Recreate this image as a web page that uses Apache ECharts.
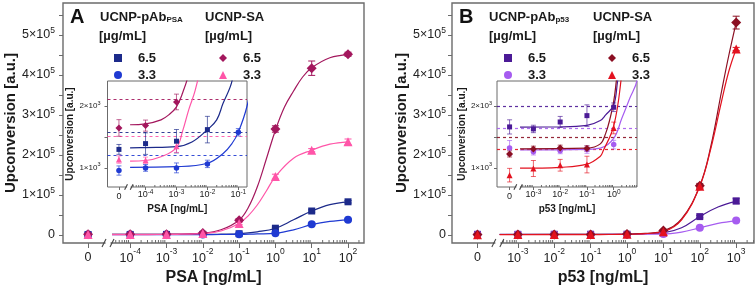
<!DOCTYPE html>
<html><head><meta charset="utf-8">
<script src="https://cdn.jsdelivr.net/npm/echarts@6/dist/echarts.min.js"></script>
<style>html,body{margin:0;padding:0;background:#fff}#c{width:756px;height:293px}</style>
</head><body><div id="c"></div>
<script>
// ================= DATA =================
var concA = [0, 1e-4, 1e-3, 1e-2, 1e-1, 1, 10, 100];
var concB = [0, 1e-3, 1e-2, 1e-1, 1, 10, 100, 1000];
var tickExpA = [-4, -3, -2, -1, 0, 1, 2];
var tickExpAin = [-4, -3, -2, -1];
var tickExpB = [-3, -2, -1, 0, 1, 2, 3];
var tickExpBin = [-3, -2, -1, 0];
var yLabelsMain = [0, 100000, 200000, 300000, 400000, 500000];
var yTicksMain = [0, 50000, 100000, 150000, 200000, 250000, 300000, 350000, 400000, 450000, 500000, 550000];
var yLabelsInset = [1000, 2000];
var yTicksInset = [1000, 1500, 2000];

// Panel A (PSA)
var pAbA65 = [1300, 1394, 1433, 1621, 3200, 17000, 60000, 83000];
var pAbA65Err = [80, 175, 190, 215, 300, 2500, 3000, 3000];
var pAbA33 = [957, 1000, 1000, 1065, 1578, 4300, 27000, 38000];
var pAbA33Err = [75, 55, 80, 60, 60, 1500, 2500, 2500];
var saA65 = [1648, 1686, 2070, 5000, 37000, 265000, 417000, 452000];
var saA65Err = [135, 90, 127, 1500, 4000, 8000, 18000, 5000];
var saA33 = [1135, 1125, 1351, 4000, 29000, 146000, 212000, 233000];
var saA33Err = [60, 50, 100, 1000, 3000, 6000, 4000, 7000];
var lodA = [1578, 1206, 2118, 1514];
var fitPAbA65 = [[-4.5,1325],[-4,1330],[-3,1345],[-2.5,1420],[-2,1620],[-1.7,1780],[-1.5,2040],[-1.2,2420],[-1,3200],[-0.5,8000],[0,17000],[0.5,38000],[1,60000],[1.5,76000],[2,83000]];
var fitPAbA33 = [[-4.5,1010],[-3,1020],[-2,1075],[-1.5,1230],[-1.2,1400],[-1,1580],[-0.72,2000],[-0.5,2600],[0,4500],[0.5,13000],[1,26000],[1.5,34000],[2,38000]];
var fitSaA65 = [[-4.5,1700],[-4,1715],[-3.5,1780],[-3.25,1860],[-3,1990],[-2.8,2220],[-2.6,2550],[-2,4500],[-1.5,13000],[-1,37000],[-0.75,68000],[-0.5,120000],[-0.25,190000],[0,262000],[0.25,320000],[0.5,360000],[0.75,395000],[1,418000],[1.5,443000],[2,451000]];
var fitSaA33 = [[-4.5,1110],[-4,1120],[-3.5,1180],[-3,1330],[-2.8,1600],[-2.6,1950],[-2.4,2250],[-2.2,2700],[-2,3500],[-1.5,10000],[-1,29000],[-0.75,48000],[-0.5,75000],[-0.25,110000],[0,146000],[0.5,192000],[1,212000],[1.5,227000],[2,233000]];

// Panel B (p53)
var pAbB65 = [1665, 1632, 1745, 1848, 1984, 4500, 46000, 85000];
var pAbB65Err = [115, 60, 90, 175, 70, 1000, 3000, 7000];
var pAbB33 = [1324, 1260, 1280, 1297, 1378, 2500, 18000, 36000];
var pAbB33Err = [120, 50, 50, 60, 70, 500, 2000, 3000];
var saB65 = [1227, 1308, 1324, 1313, 2600, 11000, 123000, 531000];
var saB65Err = [50, 45, 45, 45, 100, 3000, 6000, 16000];
var saB33 = [882, 990, 1043, 1054, 1648, 8000, 122000, 465000];
var saB33Err = [110, 130, 95, 135, 95, 2000, 4000, 4000];
var lodB = [2000, 1648, 1498, 1297];
var fitPAbB65 = [[-3.5,1662],[-2,1665],[-1,1690],[-0.5,1770],[-0.3,1860],[0,2020],[0.15,2420],[0.5,3300],[1,5500],[1.5,18000],[2,46000],[2.5,70000],[3,84000]];
var fitPAbB33 = [[-3.5,1290],[-1,1300],[-0.5,1320],[0,1480],[0.3,1800],[0.6,2130],[0.87,2420],[1.2,3500],[1.5,7000],[2,18000],[2.5,29000],[3,36000]];
var fitSaB65 = [[-3.5,1310],[-1,1320],[-0.5,1390],[-0.3,1560],[-0.15,1780],[0,2080],[0.1,2420],[0.5,4000],[1,10500],[1.5,40000],[2,123000],[2.3,220000],[2.6,360000],[2.8,450000],[3,531000]];
var fitSaB33 = [[-3.5,995],[-2,1010],[-1,1060],[-0.5,1190],[-0.4,1270],[0,1680],[0.28,2450],[0.5,3500],[1,8500],[1.5,38000],[2,122000],[2.3,215000],[2.6,335000],[2.8,410000],[3,465000]];

// ================= LAYOUT / STYLE =================
var FF = '"Liberation Sans", Arial, sans-serif';
var TXT = '#1a1a1a';
var AX = '#6b6b6b';
var LAY = [
  {left:63, top:3, width:301, height:240, xmin:-5.85, xmax:2.44, zero:-5.16, brk:-4.61, ymin:-20000, ymax:580000, inset:false},
  {left:107.5, top:81, width:139.5, height:106, xmin:-5.23, xmax:-0.72, zero:-4.86, brk:-4.54, ymin:690, ymax:2410, inset:true},
  {left:452, top:3, width:302, height:240, xmin:-4.81, xmax:3.49, zero:-4.11, brk:-3.55, ymin:-20000, ymax:580000, inset:false},
  {left:497, top:81, width:140, height:106, xmin:-4.36, xmax:0.87, zero:-3.89, brk:-3.57, ymin:690, ymax:2410, inset:true}
];

var groupsA = [
  {name:'A pAb 6.5', color:'#1c2a8a', symbol:'rect', vals:pAbA65, err:pAbA65Err, fit:fitPAbA65, lod:lodA[0]},
  {name:'A pAb 3.3', color:'#1f3ad2', symbol:'circle', vals:pAbA33, err:pAbA33Err, fit:fitPAbA33, lod:lodA[1]},
  {name:'A SA 6.5', color:'#a3175d', symbol:'diamond', vals:saA65, err:saA65Err, fit:fitSaA65, lod:lodA[2]},
  {name:'A SA 3.3', color:'#ff55a8', symbol:'triangle', vals:saA33, err:saA33Err, fit:fitSaA33, lod:lodA[3]}
];
var groupsB = [
  {name:'B pAb 6.5', color:'#4b1a96', symbol:'rect', vals:pAbB65, err:pAbB65Err, fit:fitPAbB65, lod:lodB[0]},
  {name:'B pAb 3.3', color:'#a65cf0', symbol:'circle', vals:pAbB33, err:pAbB33Err, fit:fitPAbB33, lod:lodB[1]},
  {name:'B SA 6.5', color:'#8b0f22', symbol:'diamond', vals:saB65, err:saB65Err, fit:fitSaB65, lod:lodB[2]},
  {name:'B SA 3.3', color:'#e3121f', symbol:'triangle', vals:saB33, err:saB33Err, fit:fitSaB33, lod:lodB[3]}
];
var symSizeMain = {rect:7, circle:8, diamond:10, triangle:9};
var symSizeInset = {rect:5, circle:5.5, diamond:7, triangle:6};

function posOf(c, zero) { return c === 0 ? zero : Math.log10(c); }

// ================= AXES =================
function xLabelFmt(zero) {
  return function (v) {
    if (Math.abs(v - zero) < 1e-6) return '{z|0}';
    return '{n|10}{s|' + Math.round(v) + '}';
  };
}
function xRich(inset) {
  if (inset) return {
    z: {fontSize:9, fontFamily:FF, color:'#222', lineHeight:15, verticalAlign:'middle'},
    n: {fontSize:9, fontFamily:FF, color:'#222', lineHeight:9, verticalAlign:'bottom'},
    s: {fontSize:6.5, fontFamily:FF, color:'#222', lineHeight:10, verticalAlign:'top'}
  };
  return {
    z: {fontSize:12.5, fontFamily:FF, color:'#222', lineHeight:22, verticalAlign:'middle'},
    n: {fontSize:12.5, fontFamily:FF, color:'#222', lineHeight:12, verticalAlign:'bottom'},
    s: {fontSize:8.5, fontFamily:FF, color:'#222', lineHeight:18, verticalAlign:'top'}
  };
}
function yRich(inset) {
  var b = inset ? 8 : 12.5, s = inset ? 5.5 : 8.5;
  return {
    n: {fontSize:b, fontFamily:FF, color:'#222', lineHeight:inset ? 12 : 18, verticalAlign:'middle'},
    s: {fontSize:s, fontFamily:FF, color:'#222', lineHeight:inset ? 6 : 8, verticalAlign:'top'}
  };
}
function yLabelFmt(inset) {
  return function (v) {
    if (inset) return '{n|' + Math.round(v / 1000) + '×10}{s|3}';
    if (v === 0) return '{n|0}';
    return '{n|' + Math.round(v / 100000) + '×10}{s|5}';
  };
}

var grids = [], xAxes = [], yAxes = [];
var xNames = ['PSA [ng/mL]', 'PSA [ng/mL]', 'p53 [ng/mL]', 'p53 [ng/mL]'];
var xExps = [tickExpA, tickExpAin, tickExpB, tickExpBin];
LAY.forEach(function (L, i) {
  grids.push({left:L.left, top:L.top, width:L.width, height:L.height, show:true,
    borderColor:AX, borderWidth:L.inset ? 1 : 1.4, backgroundColor:'#fff', z: L.inset ? 3 : 0});
  var vals = [L.zero].concat(xExps[i]);
  xAxes.push({type:'value', gridIndex:i, min:L.xmin, max:L.xmax, position:'bottom',
    splitLine:{show:false}, axisLine:{show:false, onZero:false},
    axisTick:{show:true, customValues:vals, length:L.inset ? 3 : 5, lineStyle:{color:AX, width:1}},
    axisLabel:{customValues:vals, margin:L.inset ? 2 : 4, formatter:xLabelFmt(L.zero), rich:xRich(L.inset)},
    name:xNames[i], nameLocation:'middle', nameGap:L.inset ? 17 : 27,
    nameTextStyle:{fontSize:L.inset ? 10 : 16, fontWeight:'bold', fontFamily:FF, color:TXT}, z: L.inset ? 3 : 0});
  yAxes.push({type:'value', gridIndex:i, min:L.ymin, max:L.ymax, position:'left',
    splitLine:{show:false}, axisLine:{show:false, onZero:false},
    axisTick:{show:true, customValues:L.inset ? yTicksInset : yTicksMain, length:L.inset ? 3 : 4, lineStyle:{color:AX, width:1}},
    axisLabel:{customValues:L.inset ? yLabelsInset : yLabelsMain, margin:L.inset ? (i === 1 ? 7 : 5) : (i === 0 ? 8 : 6),
      formatter:yLabelFmt(L.inset), rich:yRich(L.inset)},
    name:'Upconversion [a.u.]', nameLocation:'middle', nameRotate:90,
    nameGap:L.inset ? 28 : (i === 0 ? 44 : 42),
    nameTextStyle:{fontSize:L.inset ? 10 : 15, fontWeight:'bold', fontFamily:FF, color:TXT}, z: L.inset ? 3 : 0});
});

// ================= SERIES =================
var series = [];
function errRender(cap, color, opacity) {
  return function (params, api) {
    var cs = params.coordSys;
    var top = cs.y, bot = cs.y + cs.height;
    var x = api.value(0), y = api.value(1), e = api.value(2);
    var a = api.coord([x, y + e]), b = api.coord([x, y - e]);
    if (a[0] < cs.x - 0.5 || a[0] > cs.x + cs.width + 0.5) return null;
    var y1 = Math.max(a[1], top), y2 = Math.min(b[1], bot);
    if (y1 >= y2) return null;
    var st = {stroke:color, lineWidth:1, opacity:opacity};
    var ch = [{type:'line', shape:{x1:a[0], y1:y1, x2:a[0], y2:y2}, style:st}];
    if (a[1] >= top) ch.push({type:'line', shape:{x1:a[0] - cap, y1:a[1], x2:a[0] + cap, y2:a[1]}, style:st});
    if (b[1] <= bot) ch.push({type:'line', shape:{x1:b[0] - cap, y1:b[1], x2:b[0] + cap, y2:b[1]}, style:st});
    return {type:'group', children:ch};
  };
}
function inView(L, x, lo, hi) {
  return x >= L.xmin && x <= L.xmax && hi >= L.ymin && lo <= L.ymax;
}
function addPanel(groups, conc, gMain, gInset) {
  [gMain, gInset].forEach(function (gi) {
    var L = LAY[gi];
    groups.forEach(function (g) {
      var line = {type:'line', name:'fit ' + g.name, xAxisIndex:gi, yAxisIndex:gi, data:g.fit,
        smooth:0.4, showSymbol:false, symbol:'none', clip:true, silent:true,
        lineStyle:{color:g.color, width:1.2}, z: L.inset ? 5 : 2};
      if (L.inset) {
        line.markLine = {silent:true, symbol:['none','none'], label:{show:false},
          lineStyle:{color:g.color, type:[3,3], width:1.2, opacity:0.9},
          data:[{yAxis:g.lod}], animation:false};
      }
      series.push(line);
    });
    groups.forEach(function (g) {
      var d = [];
      conc.forEach(function (c, k) {
        var x = posOf(c, L.zero);
        if (inView(L, x, g.vals[k] - g.err[k], g.vals[k] + g.err[k])) d.push([x, g.vals[k], g.err[k]]);
      });
      series.push({type:'custom', name:'err ' + g.name, xAxisIndex:gi, yAxisIndex:gi, silent:true,
        z: L.inset ? 6 : 3, renderItem:errRender(L.inset ? 2.5 : 3.5, g.color, L.inset ? 0.65 : 1), data:d});
    });
    groups.forEach(function (g) {
      var d = [];
      conc.forEach(function (c, k) {
        var x = posOf(c, L.zero);
        if (inView(L, x, g.vals[k], g.vals[k])) d.push([x, g.vals[k]]);
      });
      series.push({type:'scatter', name:g.name, xAxisIndex:gi, yAxisIndex:gi, silent:true, clip:true,
        symbol:g.symbol, symbolSize:(L.inset ? symSizeInset : symSizeMain)[g.symbol],
        itemStyle:{color:g.color, opacity:1}, z: L.inset ? 7 : 4, data:d});
    });
    // minor log ticks (axis decoration)
    var minor = [];
    for (var n = Math.floor(L.xmin); n <= Math.ceil(L.xmax); n++) {
      for (var k = 2; k <= 9; k++) {
        var v = n + Math.log10(k);
        if (v > L.brk + 0.12 && v < L.xmax) minor.push([v, L.ymin]);
      }
    }
    series.push({type:'custom', name:'minor', xAxisIndex:gi, yAxisIndex:gi, silent:true, z:8,
      data:minor,
      renderItem:function (params, api) {
        var cs = params.coordSys, px = api.coord([api.value(0), api.value(1)])[0], b = cs.y + cs.height;
        return {type:'line', shape:{x1:px, y1:b, x2:px, y2:b - (L.inset ? 2 : 3)}, style:{stroke:AX, lineWidth:1}};
      }});
    // axis break mark
    series.push({type:'custom', name:'break', xAxisIndex:gi, yAxisIndex:gi, silent:true, z:9,
      data:[[L.brk, L.ymin]],
      renderItem:function (params, api) {
        var cs = params.coordSys, px = api.coord([api.value(0), api.value(1)])[0], b = cs.y + cs.height;
        var s = L.inset ? 0.7 : 1;
        var st = {stroke:'#444', lineWidth:1.1};
        return {type:'group', children:[
          {type:'rect', shape:{x:px - 2.5 * s, y:b - 2, width:5 * s, height:4}, style:{fill:'#fff'}},
          {type:'line', shape:{x1:px - 6 * s, y1:b + 4 * s, x2:px - 2 * s, y2:b - 4 * s}, style:st},
          {type:'line', shape:{x1:px + 2 * s, y1:b + 4 * s, x2:px + 6 * s, y2:b - 4 * s}, style:st}
        ]};
      }});
  });
}
addPanel(groupsA, concA, 0, 1);
addPanel(groupsB, concB, 2, 3);

// ================= LEGENDS =================
function legendCfg(groups, icons, iconCenter) {
  return {orient:'vertical', left:iconCenter - 4, top:46, itemWidth:8, itemHeight:8, itemGap:3,
    selectedMode:false,
    data:groups.map(function (g, i) { return {name:g.name, icon:icons[i]}; }),
    formatter:function (n) { return n.split(' ')[2]; },
    textStyle:{fontSize:13, fontWeight:'bold', fontFamily:FF, color:TXT, lineHeight:14, padding:[0, 0, 0, 11]}};
}
var legends = [
  legendCfg(groupsA.slice(0, 2), ['rect', 'circle'], 113),
  legendCfg(groupsA.slice(2, 4), ['diamond', 'triangle'], 218),
  legendCfg(groupsB.slice(0, 2), ['rect', 'circle'], 503),
  legendCfg(groupsB.slice(2, 4), ['diamond', 'triangle'], 607)
];

function header(x, main, sub) {
  var rich = {
    m:{fontSize:13, fontWeight:'bold', fontFamily:FF, fill:TXT, lineHeight:16, verticalAlign:'bottom'},
    s:{fontSize:8, fontWeight:'bold', fontFamily:FF, fill:TXT, lineHeight:7, verticalAlign:'bottom'}
  };
  return {type:'text', x:x, y:16, z:20, style:{text:'{m|' + main + '}' + (sub ? '{s|' + sub + '}' : ''), rich:rich, verticalAlign:'middle', align:'left'}};
}
function unit(x) {
  return {type:'text', x:x, y:36, z:20, style:{text:'[µg/mL]', font:'bold 13px ' + FF, fill:TXT, verticalAlign:'middle', align:'left'}};
}
var graphics = [
  {type:'text', x:70, y:17, z:20, style:{text:'A', font:'bold 20px ' + FF, fill:'#111', verticalAlign:'middle', align:'left'}},
  header(100, 'UCNP-pAb', 'PSA'), unit(99), header(205, 'UCNP-SA'), unit(205),
  {type:'text', x:459, y:17, z:20, style:{text:'B', font:'bold 20px ' + FF, fill:'#111', verticalAlign:'middle', align:'left'}},
  header(489, 'UCNP-pAb', 'p53'), unit(489), header(593, 'UCNP-SA'), unit(593)
];

var chart = echarts.init(document.getElementById('c'), null, {renderer:'canvas'});
chart.setOption({
  animation:false,
  backgroundColor:'#fff',
  grid:grids, xAxis:xAxes, yAxis:yAxes,
  legend:legends,
  graphic:graphics,
  series:series
});
</script></body></html>
